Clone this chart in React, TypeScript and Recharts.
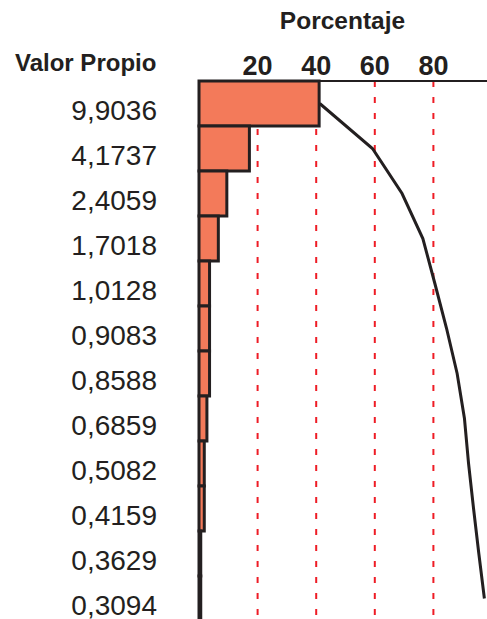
import { ComposedChart, Bar, Line, XAxis, YAxis, CartesianGrid } from 'recharts';

const valoresPropios = ['9,9036', '4,1737', '2,4059', '1,7018', '1,0128', '0,9083', '0,8588', '0,6859', '0,5082', '0,4159', '0,3629', '0,3094'];
const porcentaje = [41.0, 17.2, 9.5, 6.6, 3.6, 3.6, 3.6, 2.7, 1.8, 1.8, 0.6, 0.6];
const acumulado = [41.2, 59.2, 69.3, 76.4, 80.5, 84.5, 88.1, 90.6, 92.0, 93.7, 95.5, 97.4];
const xTicks = [20, 40, 60, 80];

const data = valoresPropios.map((v, i) => ({
  valor: v,
  pct: porcentaje[i],
  acum: acumulado[i],
}));

const dark = '#231f20';
const font = '"Liberation Sans", Arial, sans-serif';

const XTick = (props: any) => {
  const { x, y, payload } = props;
  return (
    <text x={x} y={y} textAnchor="middle" fontFamily={font} fontWeight="bold" fontSize={27} fill={dark}>
      {payload.value}
    </text>
  );
};

const YTick = (props: any) => {
  const { x, y, payload } = props;
  return (
    <text x={x} y={y} dy={16} textAnchor="end" fontFamily={font} fontSize={28} fill={dark}>
      {payload.value}
    </text>
  );
};

export default function App() {
  return (
    <div style={{ position: 'fixed', left: 0, top: 0, width: 487, height: 619, overflow: 'hidden', background: '#fff' }}>
      <ComposedChart
        layout="vertical"
        width={500}
        height={640}
        data={data}
        barCategoryGap={0}
        margin={{ top: 41, right: 8, bottom: 19, left: 0 }}
      >
        <CartesianGrid horizontal={false} stroke="#ee1c25" strokeWidth={2} strokeDasharray="6 10" />
        <XAxis
          type="number"
          orientation="top"
          domain={[0, 100]}
          ticks={xTicks}
          height={40}
          tickSize={0}
          tickMargin={6}
          tickLine={false}
          axisLine={{ stroke: dark, strokeWidth: 2 }}
          tick={<XTick />}
        />
        <YAxis
          type="category"
          dataKey="valor"
          width={199}
          tickSize={0}
          tickMargin={42}
          tickLine={false}
          axisLine={false}
          interval={0}
          tick={<YTick />}
        />
        <Bar dataKey="pct" fill="#f37a5a" stroke={dark} strokeWidth={3} isAnimationActive={false} />
        <Line type="linear" dataKey="acum" stroke={dark} strokeWidth={3} dot={false} isAnimationActive={false} />
      </ComposedChart>
      <svg width={487} height={619} style={{ position: 'absolute', left: 0, top: 0, pointerEvents: 'none' }}>
        <text x={342.5} y={29} textAnchor="middle" fontFamily={font} fontWeight="bold" fontSize={24.5} fill={dark}>
          Porcentaje
        </text>
        <text x={15} y={71} fontFamily={font} fontWeight="bold" fontSize={24} fill={dark}>
          Valor Propio
        </text>
      </svg>
    </div>
  );
}
